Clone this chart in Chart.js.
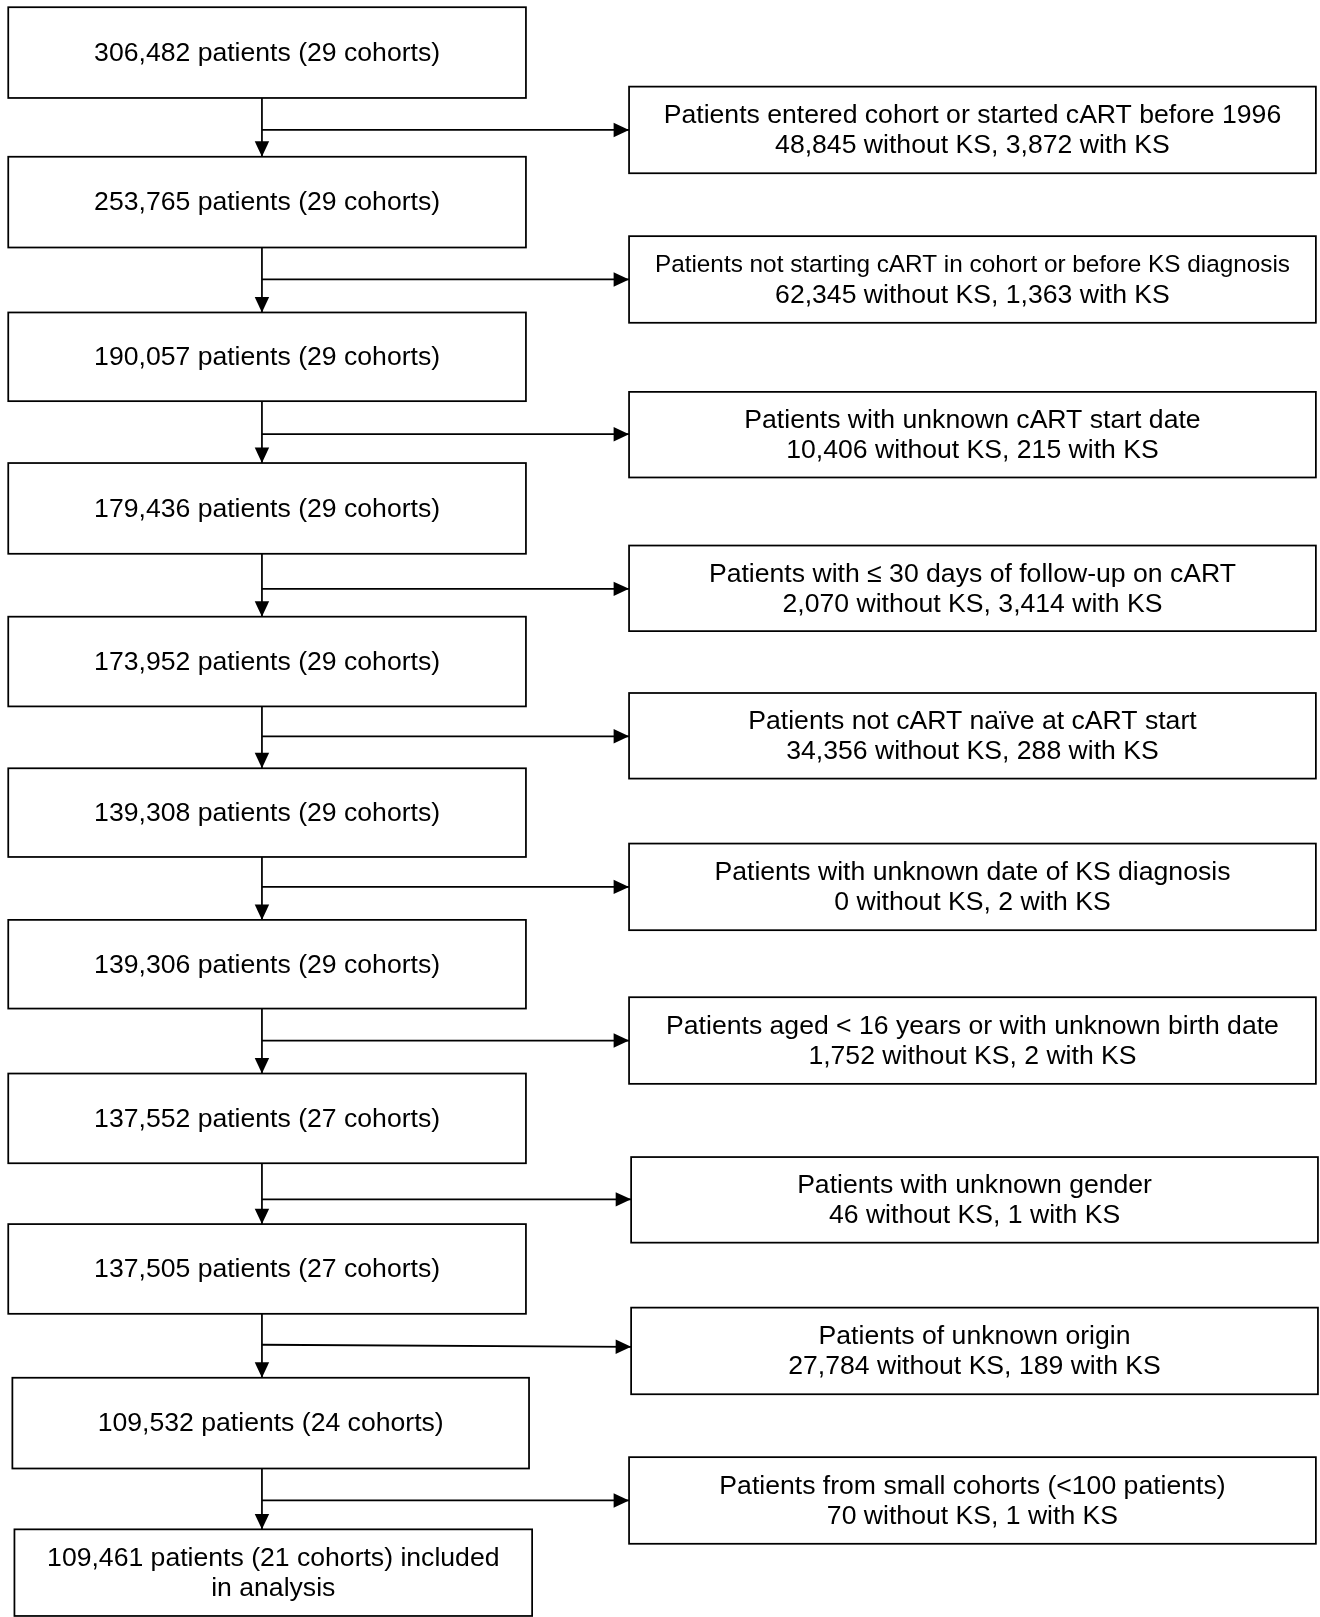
<!DOCTYPE html>
<html>
<head>
<meta charset="utf-8">
<script src="https://cdn.jsdelivr.net/npm/chart.js@4/dist/chart.umd.min.js"></script>
<style>
  html, body { margin: 0; padding: 0; background: #fff; overflow: hidden; }
  #wrap { position: relative; width: 1320px; height: 1617px; }
</style>
</head>
<body>
<div id="wrap"><canvas id="flow"></canvas></div>
<script>
// flow steps (main column)
var mainLabels = [
    ["306,482 patients (29 cohorts)"],
    ["253,765 patients (29 cohorts)"],
    ["190,057 patients (29 cohorts)"],
    ["179,436 patients (29 cohorts)"],
    ["173,952 patients (29 cohorts)"],
    ["139,308 patients (29 cohorts)"],
    ["139,306 patients (29 cohorts)"],
    ["137,552 patients (27 cohorts)"],
    ["137,505 patients (27 cohorts)"],
    ["109,532 patients (24 cohorts)"],
    ["109,461 patients (21 cohorts) included", "in analysis"]
];
// exclusions (right column)
var exclLabels = [
    ["Patients entered cohort or started cART before 1996", "48,845 without KS, 3,872 with KS"],
    ["Patients not starting cART in cohort or before KS diagnosis", "62,345 without KS, 1,363 with KS"],
    ["Patients with unknown cART start date", "10,406 without KS, 215 with KS"],
    ["Patients with \u2264 30 days of follow-up on cART", "2,070 without KS, 3,414 with KS"],
    ["Patients not cART na\u00efve at cART start", "34,356 without KS, 288 with KS"],
    ["Patients with unknown date of KS diagnosis", "0 without KS, 2 with KS"],
    ["Patients aged < 16 years or with unknown birth date", "1,752 without KS, 2 with KS"],
    ["Patients with unknown gender", "46 without KS, 1 with KS"],
    ["Patients of unknown origin", "27,784 without KS, 189 with KS"],
    ["Patients from small cohorts (<100 patients)", "70 without KS, 1 with KS"]
];

// layout (page units on a 1280 x 1568 grid)
var mainBoxes = [
    [8, 7, 510, 95], [8, 152, 510, 240], [8, 303, 510, 389], [8, 449, 510, 537],
    [8, 598, 510, 685], [8, 745, 510, 831], [8, 892, 510, 978], [8, 1041, 510, 1128],
    [8, 1187, 510, 1274], [12, 1336, 513, 1424], [14, 1483, 516, 1567]
];
var exclBoxes = [
    [610, 84, 1276, 168], [610, 229, 1276, 313], [610, 380, 1276, 463], [610, 529, 1276, 612],
    [610, 672, 1276, 755], [610, 818, 1276, 902], [610, 967, 1276, 1051], [612, 1122, 1278, 1205],
    [612, 1268, 1278, 1352], [610, 1413, 1276, 1497]
];
var branchY = [126, 271, 421, 571, 714, 860, 1009, 1163, 1304, 1455];

var flowPlugin = {
    id: "flow",
    afterDraw: function (chart) {
        var c = chart.ctx, sx = chart.scales.x, sy = chart.scales.y;
        var X = function (v) { return sx.getPixelForValue(v); };
        var Y = function (v) { return sy.getPixelForValue(v); };
        var k = chart.width / 1280;
        c.save();
        c.strokeStyle = "#000";
        c.fillStyle = "#000";
        c.lineWidth = 1.7 * k;
        c.textAlign = "center";
        c.textBaseline = "middle";

        function box(b, lines, sizes) {
            c.strokeRect(X(b[0]), Y(b[1]), X(b[2]) - X(b[0]), Y(b[3]) - Y(b[1]));
            var cx = (X(b[0]) + X(b[2])) / 2, cy = (Y(b[1]) + Y(b[3])) / 2 + 1;
            var lh = 29 * k, y0 = cy - (lines.length - 1) * lh / 2;
            lines.forEach(function (t, i) {
                c.font = ((sizes ? sizes[i] : 25.8) * k) + "px 'Liberation Sans', Arial, sans-serif";
                c.fillText(t, cx, y0 + i * lh);
            });
        }
        function arrow(x1, y1, x2, y2) {
            c.beginPath(); c.moveTo(X(x1), Y(y1)); c.lineTo(X(x2), Y(y2)); c.stroke();
            var a = Math.atan2(Y(y2) - Y(y1), X(x2) - X(x1)), L = 15 * k, W = 7 * k;
            c.beginPath();
            c.moveTo(X(x2), Y(y2));
            c.lineTo(X(x2) - L * Math.cos(a) + W * Math.sin(a), Y(y2) - L * Math.sin(a) - W * Math.cos(a));
            c.lineTo(X(x2) - L * Math.cos(a) - W * Math.sin(a), Y(y2) - L * Math.sin(a) + W * Math.cos(a));
            c.closePath(); c.fill();
        }

        mainBoxes.forEach(function (b, i) { box(b, mainLabels[i]); });
        exclBoxes.forEach(function (b, i) { box(b, exclLabels[i], i === 1 ? [23.6, 25.8] : null); });
        for (var i = 0; i < exclBoxes.length; i++) {
            arrow(254, mainBoxes[i][3], 254, mainBoxes[i + 1][1]);
            var yEnd = i === 8 ? branchY[i] + 2 : branchY[i];
            arrow(254, branchY[i], exclBoxes[i][0], yEnd);
        }
        c.restore();
    }
};

new Chart(document.getElementById("flow").getContext("2d"), {
    type: "scatter",
    data: { datasets: [{ data: [] }] },
    options: {
        responsive: true,
        maintainAspectRatio: false,
        animation: false,
        layout: { padding: 0 },
        plugins: { legend: { display: false }, tooltip: { enabled: false } },
        scales: {
            x: { type: "linear", min: 0, max: 1280, display: false },
            y: { type: "linear", min: 0, max: 1568, reverse: true, display: false }
        }
    },
    plugins: [flowPlugin]
});
</script>
</body>
</html>
